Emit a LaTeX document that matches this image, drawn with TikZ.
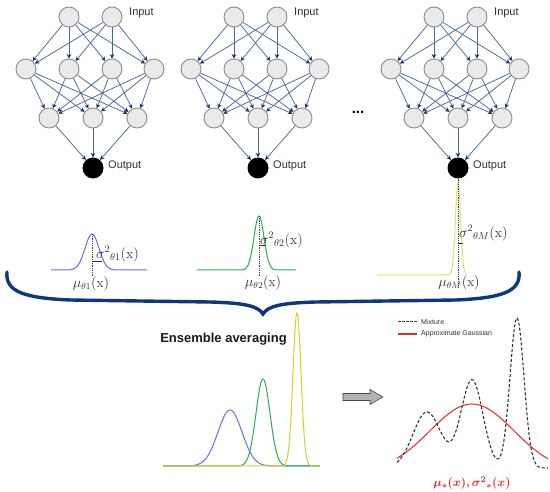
\documentclass[tikz,border=0pt]{standalone}
\usepackage{fontspec}
\setsansfont{Liberation Sans}
\usepackage{bm}
\usetikzlibrary{arrows.meta}
\definecolor{edgec}{RGB}{75,105,150}
\definecolor{tipc}{RGB}{20,50,100}
\definecolor{nfill}{RGB}{234,234,234}
\definecolor{ndraw}{RGB}{140,140,140}
\definecolor{bluec}{RGB}{110,110,235}
\definecolor{greenc}{RGB}{40,175,80}
\definecolor{yellc}{RGB}{210,210,40}
\definecolor{yellt}{RGB}{225,225,110}
\definecolor{bracec}{RGB}{15,55,125}
\definecolor{redc}{RGB}{230,40,40}
\definecolor{txtc}{RGB}{50,50,50}
\begin{document}
\begin{tikzpicture}[x=1pt,y=-1pt,
 declare function={gau(\t,\c,\s)=exp(max(-14,-0.5*((\t-\c)/\s)*((\t-\c)/\s)));},
 neur/.style={circle,draw=ndraw,fill=nfill,line width=0.9pt,minimum size=20pt,inner sep=0pt},
 outn/.style={circle,fill=black,minimum size=21pt,inner sep=0pt},
 edge/.style={draw=edgec,line width=0.75pt,-{Stealth[length=4.5pt,width=4.5pt,color=tipc]}},
 lab/.style={font=\sffamily\fontsize{11}{12}\selectfont,anchor=west,text=txtc,inner sep=0pt},
 mlab/.style={text=txtc,font=\fontsize{14}{16}\selectfont,inner sep=0pt},
 mulab/.style={text=txtc,font=\fontsize{13.5}{16}\selectfont,inner sep=0pt},
 meanline/.style={densely dotted,line width=0.8pt,draw=black!75},
 tick/.style={draw=txtc,line width=0.6pt},
 curve/.style={line width=1pt},
 legtext/.style={font=\sffamily\fontsize{7}{8}\selectfont,anchor=west,text=txtc,inner sep=0pt},
]
\fill[white] (0,0) rectangle (550,492);
\useasboundingbox (0,0) rectangle (550,492);

% ---------- three networks ----------
\foreach \k/\dx in {1/0,2/165,3/365}{
  \node[neur] (i\k-1) at (69+\dx,17) {};
  \node[neur] (i\k-2) at (112+\dx,17) {};
  \node[neur] (h\k-1) at (26+\dx,69) {};
  \node[neur] (h\k-2) at (69+\dx,69) {};
  \node[neur] (h\k-3) at (112+\dx,69) {};
  \node[neur] (h\k-4) at (154+\dx,69) {};
  \node[neur] (g\k-1) at (49+\dx,118) {};
  \node[neur] (g\k-2) at (93+\dx,118) {};
  \node[neur] (g\k-3) at (137+\dx,118) {};
  \node[outn] (o\k) at (93+\dx,168) {};
  \node[lab] (inl\k) at (129+\dx,13) {Input};
  \node[lab] (outl\k) at (108+\dx,166) {Output};
}
\foreach \k in {1,2,3}{
  \foreach \a in {1,2} \foreach \b in {1,2,3,4} \draw[edge] (i\k-\a) -- (h\k-\b);
  \foreach \a in {1,2,3,4} \foreach \b in {1,2,3} \draw[edge] (h\k-\a) -- (g\k-\b);
  \foreach \a in {1,2,3} \draw[edge] (g\k-\a) -- (o\k);
}
\node[font=\sffamily\bfseries\fontsize{15}{15}\selectfont,text=black] (dots) at (358,112) {...};

% ---------- individual predictive distributions ----------
\draw[bluec,curve] plot[domain=51:147,samples=200] (\x,{270-36*gau(\x,92,7)});
\draw[greenc,curve] plot[domain=197:296,samples=200] (\x,{270-54*gau(\x,259,5)});
\draw[yellt,curve] plot[domain=377:467,samples=300] (\x,{275-92*gau(\x,458,2.6)});

\coordinate (m1t) at (92,234);  \coordinate (m1b) at (92,276);
\coordinate (m2t) at (259,216); \coordinate (m2b) at (259,276);
\coordinate (m3b) at (458,285);
\draw[meanline] (m1t) -- (m1b);
\draw[meanline] (m2t) -- (m2b);
\draw[meanline] (o3.south) -- (m3b);

\coordinate (s1a) at (92,261);  \coordinate (s1b) at (102,261);
\coordinate (s2a) at (259,245); \coordinate (s2b) at (266,245);
\coordinate (s3a) at (458,243); \coordinate (s3b) at (463,243);
\draw[tick] (s1a) -- (s1b);
\draw[tick] (s2a) -- (s2b);
\draw[tick] (s3a) -- (s3b);

\node[mlab,anchor=west] (sig1) at (96,254) {$\sigma^{2}{}_{\theta 1}(\mathrm{x})$};
\node[mlab,anchor=west] (sig2) at (260,240) {$\sigma^{2}{}_{\theta 2}(\mathrm{x})$};
\node[mlab,anchor=west] (sig3) at (459,233) {$\sigma^{2}{}_{\theta M}(\mathrm{x})$};
\node[mulab] (mu1) at (91,284) {$\mu_{\theta 1}(\mathrm{x})$};
\node[mulab] (mu2) at (263,283) {$\mu_{\theta 2}(\mathrm{x})$};
\node[mulab] (mu3) at (459,283) {$\mu_{\theta M}(\mathrm{x})$};

% ---------- brace ----------
\draw[bracec,line width=3.4pt,line cap=round]
  (7,272) .. controls (5,292) and (25,298) .. (70,300) -- (210,302)
  .. controls (245,303) and (258,306) .. (263,314)
  .. controls (268,306) and (281,303) .. (316,302) -- (456,300)
  .. controls (501,298) and (521,292) .. (519,272);

% ---------- ensemble averaging ----------
\node[font=\sffamily\bfseries\fontsize{13}{14}\selectfont,text=black!90] (ens) at (223.5,339) {Ensemble averaging};
\draw[bluec,curve] plot[domain=163:320,samples=250] (\x,{466-56*gau(\x,230,12)});
\draw[greenc,curve] plot[domain=163:320,samples=250] (\x,{466-87*gau(\x,263,7)});
\draw[yellc,curve] plot[domain=163:320,samples=400] (\x,{466-153*gau(\x,297,4)});

% ---------- gray arrow ----------
\draw[fill=gray!60,draw=gray!55!black,line width=0.6pt]
  (343,393.5) -- (370,393.5) -- (370,389.5) -- (383,397) -- (370,404.5) -- (370,400.5) -- (343,400.5) -- cycle;

% ---------- mixture and Gaussian ----------
\coordinate (l1a) at (398,322); \coordinate (l1b) at (417,322);
\coordinate (l2a) at (398,334); \coordinate (l2b) at (417,334);
\draw[black!80,dash pattern=on 2.5pt off 1.5pt,line width=1pt] (l1a) -- (l1b);
\draw[draw=redc,line width=1.2pt] (l2a) -- (l2b);
\node[legtext] (legm) at (421,322) {Mixture};
\node[legtext] (legg) at (421,334) {Approximate Gaussian};

\draw[redc,line width=1pt] plot[domain=397:548,samples=200] (\x,{472-68*gau(\x,472,42)});
\draw[black!80,line width=1.1pt,dash pattern=on 3pt off 2pt] plot[domain=397:548,samples=300]
  (\x,{468-56*gau(\x,427,14)-88*gau(\x,472,11)-150*gau(\x,517,7)});

\node[text=redc,font=\fontsize{13}{15}\selectfont] (res) at (472,483) {$\bm{\mu_{*}(x), \sigma^{2}{}_{*}(x)}$};
\end{tikzpicture}
\end{document}
